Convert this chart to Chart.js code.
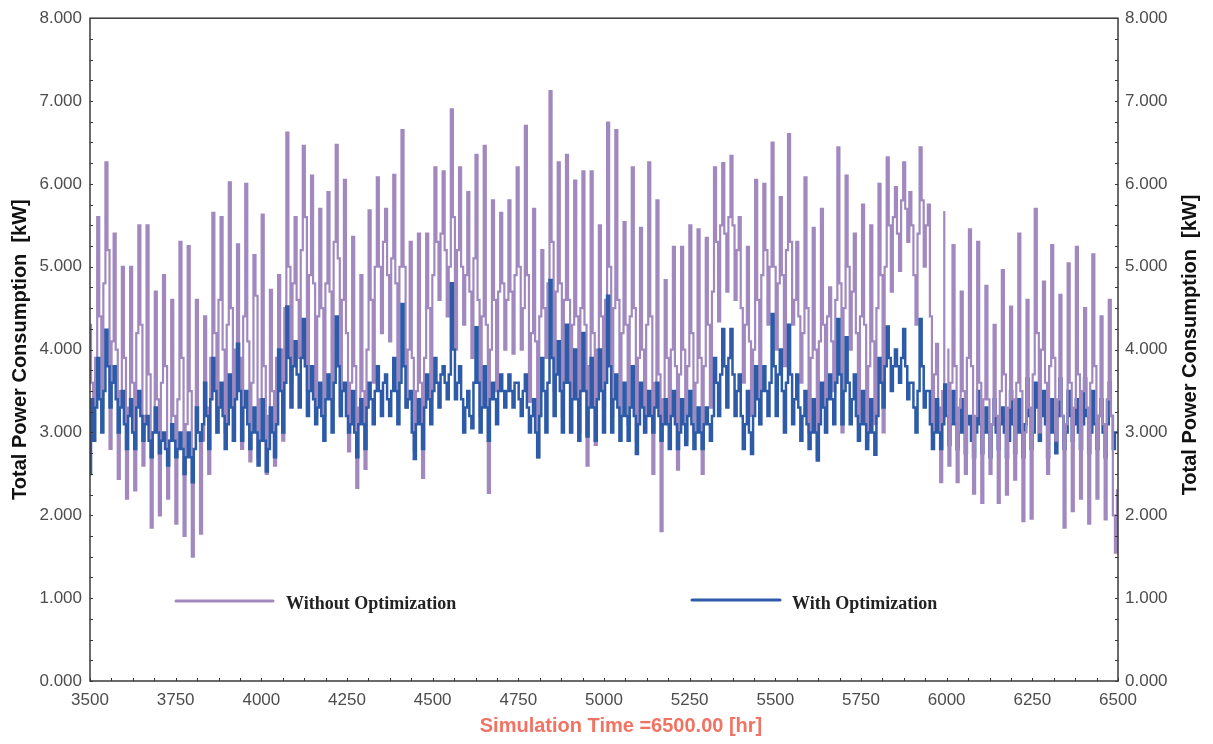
<!DOCTYPE html>
<html><head><meta charset="utf-8">
<script src="https://cdn.jsdelivr.net/npm/chart.js@4.4.1/dist/chart.umd.min.js"></script>
<style>html,body{margin:0;padding:0;background:#fff;}canvas{display:block}</style>
</head><body>
<canvas id="c" width="1213" height="744"></canvas>
<script>
// sampling grid of the readings (hours)
const startHour = 3500;
const stepHours = 6;

// Without Optimization [kW], read every 6 h
const withoutOpt = [
4.3,3.6,2.9,3.9, 5.6,4.4,3.3,4.8, 6.26,5.2,2.8,4.1, 5.4,4.0,2.44,3.5, 5.0,3.9,2.2,3.3,
5.0,3.6,2.3,4.2, 5.5,4.3,2.6,3.2, 5.5,3.7,1.85,3.0, 4.7,3.4,2.0,3.6, 4.9,3.8,2.2,2.9,
4.6,3.2,1.9,3.4, 5.3,3.9,1.75,3.1, 5.25,3.5,1.5,2.8, 4.6,3.0,1.78,2.9, 4.4,3.3,2.5,3.9,
5.65,4.2,3.0,4.6, 5.6,4.0,3.0,4.3, 6.02,4.5,2.9,4.0, 5.27,3.9,2.8,4.4, 6.0,4.1,2.65,3.6,
5.14,4.65,2.7,3.4, 5.63,3.8,2.5,3.2, 4.72,3.5,2.6,3.9, 4.9,4.0,2.9,4.5, 6.62,5.0,3.6,4.8,
5.6,4.6,3.9,5.2, 6.46,5.6,3.5,4.9, 6.1,4.8,3.2,4.4, 5.7,4.5,3.2,4.8, 5.9,4.7,3.4,5.3,
6.47,5.1,3.3,4.6, 6.05,4.2,2.77,3.6, 5.36,3.8,2.33,3.3, 4.9,3.5,2.56,4.0, 5.68,4.6,3.6,5.0,
6.08,5.0,4.2,5.3, 5.7,4.9,4.1,5.1, 6.11,4.8,3.4,5.0, 6.65,5.0,3.3,4.0, 5.3,3.9,2.78,3.5,
5.4,3.6,2.45,3.9, 5.4,4.5,3.4,4.9, 6.2,5.3,4.6,5.4, 6.15,5.2,4.4,5.0, 6.9,5.6,4.0,5.2,
6.2,5.0,4.3,4.9, 5.9,4.7,3.9,5.1, 6.35,4.6,3.2,4.4, 6.46,4.3,2.27,4.0, 5.8,4.6,3.5,4.7,
5.65,4.8,4.0,4.6, 5.8,4.7,3.95,4.9, 6.2,5.0,4.0,4.5, 6.7,4.9,3.37,4.2, 5.7,4.1,2.7,4.4,
5.2,4.5,3.9,4.8, 7.12,5.3,3.5,4.7, 6.26,4.8,3.2,4.6, 6.35,4.6,3.0,4.3, 6.04,4.4,3.0,4.5,
6.15,4.3,2.6,3.8, 6.15,4.2,2.85,4.0, 5.5,4.4,3.3,4.6, 6.74,5.0,3.2,4.5, 6.65,4.6,3.2,4.2,
5.54,4.3,3.1,4.4, 6.2,4.5,2.9,3.9, 5.47,4.0,3.0,4.3, 6.26,4.4,2.5,3.6, 5.8,3.7,1.81,3.4,
4.84,3.9,3.1,4.0, 5.24,3.8,2.55,3.7, 5.24,4.0,2.9,3.8, 5.5,4.2,3.0,3.6, 5.45,3.9,2.5,3.8,
5.35,4.3,3.3,4.7, 6.2,5.3,4.34,5.5, 6.25,5.4,4.7,5.6, 6.34,5.5,4.6,5.2, 5.6,4.5,3.6,4.3,
5.24,4.1,3.2,4.0, 6.05,4.6,3.1,4.9, 6.0,5.2,4.3,5.0, 6.5,5.0,4.0,4.8, 5.84,4.9,3.8,5.2,
6.6,5.3,4.3,4.6, 5.3,4.4,3.6,4.2, 6.08,4.5,3.0,3.9, 5.47,4.0,2.7,4.1, 5.7,4.3,3.0,4.4,
4.75,4.1,3.5,4.6, 6.44,4.8,3.0,4.5, 6.1,5.0,4.0,4.7, 5.4,4.2,3.1,4.4, 5.75,4.3,2.9,3.8,
5.5,4.1,3.1,4.5, 6.0,4.9,3.0,5.0, 6.32,5.5,4.7,5.6, 5.96,5.4,4.95,5.8, 6.26,5.7,5.3,5.9,
5.5,4.9,4.3,5.4, 6.44,5.8,5.0,5.5, 5.75,4.4,3.0,3.7, 4.07,3.3,2.4,3.5, 5.66,4.0,2.6,3.6,
5.26,3.8,2.4,3.3, 4.7,3.5,2.5,3.9, 5.45,3.8,2.26,3.2, 5.3,3.6,2.15,3.4, 4.77,3.4,2.5,3.1,
4.3,3.2,2.15,3.5, 4.96,3.7,2.25,3.3, 4.52,3.4,2.43,3.6, 5.4,3.5,1.93,3.0, 4.6,3.3,1.96,3.7,
5.7,4.2,3.0,4.0, 4.82,3.6,2.5,3.8, 5.26,3.9,2.9,3.4, 4.66,3.2,1.85,3.1, 5.04,3.6,2.05,3.3,
5.24,3.7,2.2,3.5, 4.5,3.3,1.9,3.6, 5.15,3.8,2.2,3.2, 4.4,3.1,1.95,3.4, 4.6,3.2,2.0,1.55,
2.3
];

// With Optimization [kW], read every 6 h
const withOpt = [
2.5,3.4,2.9,3.3, 3.9,3.4,3.0,3.5, 4.24,3.8,3.3,3.6, 3.8,3.4,3.0,3.3, 3.5,3.1,2.8,3.2,
3.4,3.0,2.8,3.3, 3.5,3.2,2.9,3.1, 3.2,2.9,2.7,3.0, 3.3,3.0,2.75,2.9, 3.0,2.8,2.6,2.9,
3.1,2.9,2.7,2.8, 3.0,2.8,2.5,2.7, 3.0,2.7,2.4,2.8, 3.3,3.0,2.9,3.1, 3.6,3.2,2.8,3.4,
3.9,3.5,3.0,3.3, 3.6,3.2,2.8,3.1, 3.7,3.3,2.9,3.4, 4.07,3.5,2.9,3.3, 3.5,3.1,2.8,3.0,
3.3,3.0,2.6,2.9, 3.4,2.9,2.53,2.8, 3.3,3.0,2.7,3.1, 4.0,3.5,3.0,3.6, 4.52,3.9,3.3,3.8,
4.1,3.7,3.3,3.9, 4.37,3.8,3.2,3.5, 3.8,3.4,3.1,3.3, 3.6,3.2,2.9,3.4, 3.7,3.4,3.0,3.6,
4.4,3.8,3.2,3.5, 3.6,3.2,3.0,3.1, 3.5,3.0,2.7,3.1, 3.4,3.1,2.8,3.3, 3.6,3.4,3.1,3.5,
3.8,3.5,3.2,3.6, 3.7,3.4,3.2,3.5, 3.9,3.5,3.1,3.6, 4.55,3.8,3.3,3.4, 3.5,3.0,2.68,3.1,
3.4,3.1,2.8,3.3, 3.7,3.4,3.1,3.5, 3.9,3.6,3.3,3.7, 3.8,3.6,3.4,3.7, 4.8,4.0,3.4,3.6,
3.8,3.4,3.0,3.3, 3.5,3.2,3.05,3.6, 4.27,3.6,3.0,3.3, 3.8,3.3,2.9,3.4, 3.6,3.4,3.1,3.5,
3.7,3.5,3.3,3.5, 3.7,3.5,3.3,3.6, 3.6,3.4,3.2,3.5, 3.7,3.3,3.0,3.2, 3.4,3.0,2.7,3.2,
3.9,3.5,3.0,3.6, 4.84,3.9,3.2,3.7, 4.1,3.5,3.0,3.6, 4.3,3.6,3.0,3.4, 4.0,3.4,2.9,3.5,
4.2,3.5,2.95,3.3, 3.9,3.3,2.9,3.4, 4.0,3.5,3.0,3.6, 4.65,3.8,3.0,3.4, 3.7,3.3,2.9,3.2,
3.6,3.2,2.9,3.3, 3.8,3.2,2.74,3.1, 3.6,3.3,3.0,3.2, 3.5,3.2,3.0,3.3, 3.6,3.2,2.9,3.1,
3.4,3.1,2.8,3.2, 3.5,3.1,2.8,3.0, 3.4,3.1,2.85,3.2, 3.5,3.1,2.8,3.0, 3.3,3.0,2.8,3.1,
3.3,3.1,2.9,3.2, 3.9,3.6,3.2,3.7, 4.25,3.8,3.3,3.9, 4.25,3.7,3.2,3.5, 3.7,3.2,2.8,3.1,
3.5,3.0,2.74,3.2, 3.8,3.4,3.1,3.5, 3.8,3.5,3.2,3.6, 4.43,3.8,3.2,3.7, 4.0,3.5,3.0,3.6,
4.3,3.7,3.1,3.4, 3.7,3.3,2.9,3.2, 3.5,3.1,2.8,3.0, 3.4,3.0,2.66,3.1, 3.6,3.3,3.0,3.4,
3.7,3.4,3.1,3.6, 4.37,3.7,3.1,3.5, 4.15,3.6,3.1,3.4, 3.7,3.2,2.9,3.1, 3.5,3.1,2.8,3.0,
3.4,3.0,2.73,3.2, 3.9,3.6,3.3,3.8, 4.28,3.9,3.5,3.8, 4.0,3.8,3.6,3.9, 4.25,3.8,3.4,3.6,
3.6,3.3,3.0,3.5, 4.37,3.8,3.3,3.5, 3.5,3.1,2.8,3.0, 3.4,3.0,2.8,3.1, 3.58,3.2,2.85,3.1,
3.5,3.1,2.8,3.0, 3.4,3.0,2.75,3.1, 3.2,2.9,2.7,3.0, 3.5,3.1,2.75,3.0, 3.3,3.0,2.7,3.1,
3.4,3.0,2.8,3.1, 3.3,3.0,2.7,2.9, 3.5,3.1,2.75,3.0, 3.4,3.0,2.7,3.1, 3.65,3.2,2.8,3.0,
3.6,3.3,2.9,3.2, 3.5,3.1,2.7,3.0, 3.4,3.0,2.75,3.2, 3.65,3.2,2.8,3.0, 3.5,3.2,2.9,3.1,
3.4,3.0,2.8,3.1, 3.65,3.2,2.75,3.0, 3.5,3.1,2.8,3.2, 3.4,3.0,2.7,3.1, 3.6,3.2,2.8,3.0,
3.0
];

const xTicks = [3500, 3750, 4000, 4250, 4500, 4750, 5000, 5250, 5500, 5750, 6000, 6250, 6500];
const yTicks = [0, 1, 2, 3, 4, 5, 6, 7, 8];
const xMinorStep = 62.5;
const yMinorStep = 0.25;
const seriesNames = ['Without Optimization', 'With Optimization'];
const yTitle = 'Total Power Consumption  [kW]';
const xTitle = 'Simulation Time =6500.00 [hr]';
const overlapSplitHour = 6000; // after this hour the purple trace lies on top

const PURPLE = '#a189c0';
const BLUE = '#2d5ba8';
const SANS = "'Liberation Sans', Arial, sans-serif";
const SERIF = "'Liberation Serif', 'Times New Roman', serif";

const toPoints = arr => arr.map((v, i) => ({ x: startHour + i * stepHours, y: v }));
const ptsWithout = toPoints(withoutOpt);
const ptsWith = toPoints(withOpt);
const withoutEarly = ptsWithout.filter(p => p.x <= overlapSplitHour);
const withoutLate = ptsWithout.filter(p => p.x >= overlapSplitHour);

const decor = {
  id: 'decor',
  afterDatasetsDraw(chart) {
    const { ctx, chartArea: a, scales: { x, y } } = chart;
    ctx.save();
    ctx.strokeStyle = '#333';
    ctx.lineWidth = 1;
    ctx.beginPath();
    for (let v = xTicks[0]; v <= xTicks[xTicks.length - 1] + 1e-6; v += xMinorStep) {
      const px = Math.round(x.getPixelForValue(v)) + 0.5;
      ctx.moveTo(px, a.bottom); ctx.lineTo(px, a.bottom - 3);
    }
    for (let v = yTicks[0]; v <= yTicks[yTicks.length - 1] + 1e-6; v += yMinorStep) {
      const py = Math.round(y.getPixelForValue(v)) + 0.5;
      ctx.moveTo(a.left, py); ctx.lineTo(a.left + 3, py);
      ctx.moveTo(a.right, py); ctx.lineTo(a.right - 3, py);
    }
    ctx.stroke();
    ctx.strokeStyle = '#3a3a3a';
    ctx.lineWidth = 1.5;
    ctx.strokeRect(a.left, a.top, a.right - a.left, a.bottom - a.top);
    ctx.restore();
  },
  afterDraw(chart) {
    const { ctx, chartArea: a } = chart;
    ctx.save();
    // legend inside plot
    ctx.lineCap = 'round';
    ctx.lineWidth = 3;
    ctx.strokeStyle = PURPLE;
    ctx.beginPath(); ctx.moveTo(a.left + 86, 601); ctx.lineTo(a.left + 183, 601); ctx.stroke();
    ctx.strokeStyle = BLUE;
    ctx.beginPath(); ctx.moveTo(a.left + 602, 600); ctx.lineTo(a.left + 690, 600); ctx.stroke();
    ctx.fillStyle = '#222';
    ctx.font = 'bold 18px ' + SERIF;
    ctx.textBaseline = 'middle';
    ctx.textAlign = 'left';
    ctx.fillText(seriesNames[0], a.left + 196, 604);
    ctx.fillText(seriesNames[1], a.left + 702, 604);
    // x axis title
    ctx.font = 'bold 20px ' + SANS;
    ctx.fillStyle = '#f07363';
    ctx.textAlign = 'center';
    ctx.fillText(xTitle, 621, 726);
    // right axis title (reads bottom to top like the left one)
    ctx.fillStyle = '#111';
    ctx.translate(1190, 345);
    ctx.rotate(-Math.PI / 2);
    ctx.fillText(yTitle, 0, 0);
    ctx.restore();
  }
};

const tickFont = { family: SANS, size: 17 };
const tickColor = '#4d4d4d';

new Chart(document.getElementById('c'), {
  type: 'line',
  data: {
    datasets: [
      { label: seriesNames[0], data: withoutLate, borderColor: PURPLE, borderWidth: 2.2, pointRadius: 0, stepped: 'middle', order: 0 },
      { label: seriesNames[1], data: ptsWith, borderColor: BLUE, borderWidth: 2.5, pointRadius: 0, stepped: 'middle', order: 1 },
      { label: seriesNames[0], data: withoutEarly, borderColor: PURPLE, borderWidth: 2.2, pointRadius: 0, stepped: 'middle', order: 2 }
    ]
  },
  options: {
    responsive: false,
    animation: false,
    devicePixelRatio: 1,
    layout: { padding: { top: 17, left: 0, right: 0, bottom: 0 } },
    plugins: { legend: { display: false }, tooltip: { enabled: false } },
    scales: {
      x: {
        type: 'linear', min: xTicks[0], max: xTicks[xTicks.length - 1],
        afterBuildTicks: s => { s.ticks = xTicks.map(v => ({ value: v })); },
        afterFit: s => { s.height = 63; },
        grid: { display: false, drawTicks: false },
        border: { display: false },
        ticks: { font: tickFont, color: tickColor, padding: 9, autoSkip: false, maxRotation: 0, callback: v => String(v) },
        title: { display: false }
      },
      y: {
        position: 'left', min: 0, max: 8,
        afterBuildTicks: s => { s.ticks = yTicks.map(v => ({ value: v })); },
        afterFit: s => { s.width = 90; },
        grid: { display: false, drawTicks: false },
        border: { display: false },
        ticks: { font: tickFont, color: tickColor, padding: 8, callback: v => Number(v).toFixed(3) },
        title: { display: true, text: yTitle, color: '#111', font: { family: SANS, size: 20, weight: 'bold' }, padding: { top: 8, bottom: 0 } }
      },
      y2: {
        position: 'right', min: 0, max: 8,
        afterBuildTicks: s => { s.ticks = yTicks.map(v => ({ value: v })); },
        afterFit: s => { s.width = 95; },
        grid: { display: false, drawTicks: false },
        border: { display: false },
        ticks: { font: tickFont, color: tickColor, padding: 7, callback: v => Number(v).toFixed(3) }
      }
    }
  },
  plugins: [decor]
});
</script>
</body></html>
